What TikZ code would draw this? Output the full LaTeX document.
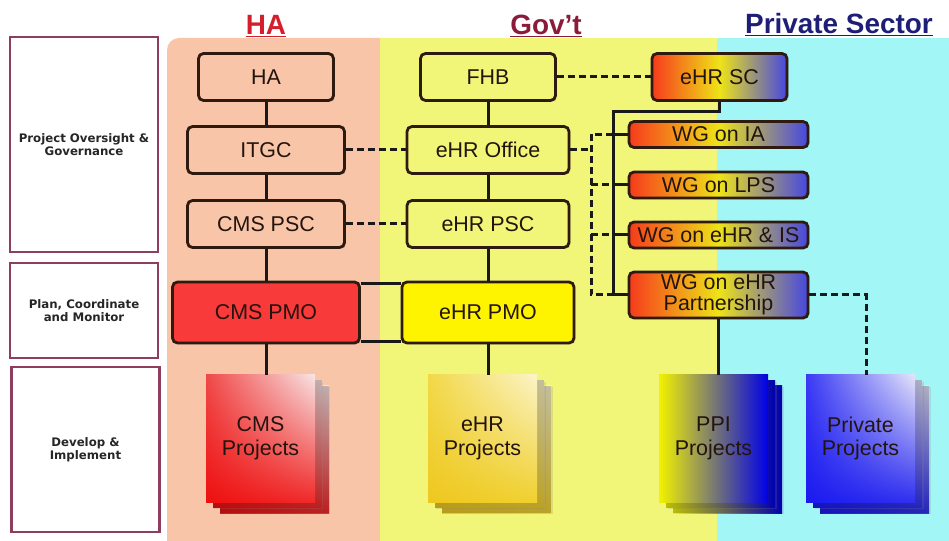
\documentclass[tikz,border=0pt]{standalone}
\usepackage{fontspec}
\setmainfont{Liberation Sans}
\newfontfamily\layerfont{DejaVu Sans}
\usepackage{tikz}
\usetikzlibrary{calc}
\usetikzlibrary{shadows}
\usetikzlibrary{shadings}
\usetikzlibrary{positioning}

\definecolor{haBg}{HTML}{F9C5A8}
\definecolor{govBg}{HTML}{F1F679}
\definecolor{privBg}{HTML}{A2F6F6}
\definecolor{boxLine}{HTML}{2E1A0E}
\definecolor{boxText}{HTML}{24140E}
\definecolor{layerLine}{HTML}{8E3D5E}
\definecolor{haRed}{HTML}{D41E2C}
\definecolor{govRed}{HTML}{8A1C3A}
\definecolor{privBlue}{HTML}{1E1E78}
\definecolor{pmoRed}{HTML}{F83A3A}
\definecolor{pmoYellow}{HTML}{FFF400}
\definecolor{wgRed}{HTML}{F63A1C}
\definecolor{wgMid}{HTML}{EEE418}
\definecolor{wgBlue}{HTML}{4646E2}
\definecolor{cmsTL}{HTML}{F04848}
\definecolor{cmsTR}{HTML}{F8E4E4}
\definecolor{cmsBL}{HTML}{EE1010}
\definecolor{cmsBR}{HTML}{F02A2A}
\definecolor{ehrTL}{HTML}{F2D848}
\definecolor{ehrTR}{HTML}{FBF4C8}
\definecolor{ehrBL}{HTML}{EEC820}
\definecolor{ehrBR}{HTML}{F0D030}
\definecolor{prvTL}{HTML}{3A3AF4}
\definecolor{prvTR}{HTML}{E4E4FA}
\definecolor{prvBL}{HTML}{1A1AF0}
\definecolor{prvBR}{HTML}{3030F0}

\newcommand{\orgfont}{\fontsize{21.5}{22}\selectfont}

\tikzset{
  orgbox/.style = {rectangle, rounded corners=5bp, draw=boxLine, line width=2.8bp,
    text=boxText, font=\orgfont, inner sep=0pt, align=center,
    drop shadow={opacity=0.25, shadow xshift=1.5pt, shadow yshift=-1.5pt}},
  habox/.style = {orgbox, fill=haBg, minimum width=157bp, minimum height=47bp},
  govbox/.style = {orgbox, fill=govBg, minimum width=162bp, minimum height=47bp},
  pmobox/.style = {orgbox, minimum height=61bp},
  wgbox/.style = {orgbox, left color=wgRed, right color=wgBlue, middle color=wgMid,
    minimum width=179bp, minimum height=26bp},
  layerbox/.style = {rectangle, draw=layerLine, line width=2.2bp, fill=white,
    minimum width=148bp, align=center, text=black!85,
    font=\layerfont\bfseries\fontsize{11.8}{13.5}\selectfont,
    drop shadow={opacity=0.2, shadow xshift=1.5pt, shadow yshift=-1.5pt}},
  colhead/.style = {font=\bfseries\fontsize{28}{30}\selectfont, anchor=base, inner sep=0pt},
  pagesheet/.style = {rectangle, minimum width=109bp, minimum height=127bp, inner sep=0pt,
    align=center, text=boxText, font=\fontsize{21.5}{24}\selectfont},
  backsheet/.style = {pagesheet,
    path picture={\fill[black, opacity=0.22] (path picture bounding box.south west)
      rectangle (path picture bounding box.north east);},
    drop shadow={opacity=0.2, shadow xshift=1.5pt, shadow yshift=-1.5pt}},
  cmsshade/.style = {upper left=cmsTL, upper right=cmsTR, lower left=cmsBL, lower right=cmsBR},
  ehrshade/.style = {upper left=ehrTL, upper right=ehrTR, lower left=ehrBL, lower right=ehrBR},
  ppishade/.style = {left color=yellow!95!black, right color=blue!90!black},
  prvshade/.style = {upper left=prvTL, upper right=prvTR, lower left=prvBL, lower right=prvBR},
  solidlink/.style = {-, draw=black!90, line width=3bp},
  dashlink/.style = {-, draw=black!90, line width=3bp, dash pattern=on 7bp off 4bp}
}

% a pile of three project sheets, the front one named
\newcommand{\projstack}[5]{%
  \node[backsheet, #4] at (#2+14, #3+11) {};
  \node[backsheet, #4] at (#2+7, #3+5.5) {};
  \node[pagesheet, #4] (#1) at (#2, #3) {#5};
}

\begin{document}
\begin{tikzpicture}[x=1bp, y=-1bp]
\useasboundingbox (0,0) rectangle (949,541);

% column backgrounds
\fill[haBg, rounded corners=12bp] (167,38) rectangle (395,600);
\fill[govBg] (380,38) rectangle (717,600);
\fill[privBg] (717,38) rectangle (960,600);

% column headers
\node[colhead, text=haRed] (hdha) at (266,35) {\underline{HA}};
\node[colhead, text=govRed] (hdgov) at (546,35) {\underline{Gov't}};
\node[colhead, text=privBlue] (hdpriv) at (839,34) {\underline{Private Sector}};

% layers
\node[layerbox, minimum height=215bp] (lyover) at (84,144.5) {Project Oversight \&\\Governance};
\node[layerbox, minimum height=95bp] (lyplan) at (84,310.5) {Plan, Coordinate\\and Monitor};
\node[layerbox, minimum height=165bp] (lydev) at (85.5,449.5) {Develop \&\\Implement};

% HA
\node[habox, minimum width=135bp] (ha) at (266,77) {HA};
\node[habox] (itgc) at (266,150) {ITGC};
\node[habox] (cmspsc) at (266,224) {CMS PSC};
\node[pmobox, fill=pmoRed, minimum width=187bp] (cmspmo) at (266,312.5) {CMS PMO};
\projstack{cmsproj}{260.5}{438.5}{cmsshade}{CMS\\Projects}

% Gov't
\node[govbox, minimum width=135bp] (fhb) at (488,77) {FHB};
\node[govbox] (ehroffice) at (488,150) {eHR Office};
\node[govbox] (ehrpsc) at (488,224) {eHR PSC};
\node[pmobox, fill=pmoYellow, minimum width=172bp] (ehrpmo) at (488,312.5) {eHR PMO};
\projstack{ehrproj}{482.5}{438.5}{ehrshade}{eHR\\Projects}

% steering committee and working groups
\node[wgbox, minimum width=135bp, minimum height=47bp] (ehrsc) at (719.5,77) {eHR SC};
\node[wgbox] (wgia) at (718.5,134.5) {WG on IA};
\node[wgbox] (wglps) at (718.5,185) {WG on LPS};
\node[wgbox] (wgis) at (718.5,235) {WG on eHR \& IS};
\node[wgbox, minimum height=46bp, font=\fontsize{21.5}{21}\selectfont] (wgpart) at (718.5,295) {WG on eHR\\Partnership};
\projstack{ppiproj}{713.5}{438.5}{ppishade}{PPI\\Projects}
\projstack{prvproj}{860.5}{438.5}{prvshade}{Private\\Projects}

% reporting lines
\draw[solidlink] (ha) -- (itgc);
\draw[solidlink] (itgc) -- (cmspsc);
\draw[solidlink] (cmspsc) -- (cmspmo);
\draw[solidlink] (cmspmo.south) -- (cmspmo.south |- cmsproj.north);
\draw[solidlink] (fhb) -- (ehroffice);
\draw[solidlink] (ehroffice) -- (ehrpsc);
\draw[solidlink] (ehrpsc) -- (ehrpmo);
\draw[solidlink] (ehrpmo.south) -- (ehrpmo.south |- ehrproj.north);
\draw[solidlink] ([yshift=-3bp]cmspmo.north east) -- ([yshift=-3bp]ehrpmo.north west);
\draw[solidlink] ([yshift=3bp]cmspmo.south east) -- ([yshift=3bp]ehrpmo.south west);

% liaison
\draw[dashlink] (itgc) -- (ehroffice);
\draw[dashlink] (cmspsc) -- (ehrpsc);
\draw[dashlink] (fhb) -- (ehrsc);

% buses to the working groups
\coordinate (sbus) at (613,112);
\coordinate (dbus) at (591,134.5);
\draw[solidlink] (ehrsc.south) |- (sbus) -- (sbus |- wgpart.west) -- (wgpart.west);
\foreach \wg in {wgia, wglps, wgis}
  \draw[solidlink] (sbus |- \wg.west) -- (\wg.west);
\draw[dashlink] (ehroffice.east) -- (dbus |- ehroffice.east);
\draw[dashlink] (sbus |- wgia.west) -- (dbus) -- (dbus |- wgpart.west) -- (sbus |- wgpart.west);
\foreach \wg in {wglps, wgis}
  \draw[dashlink] (dbus |- \wg.west) -- (sbus |- \wg.west);

\draw[solidlink] (wgpart.south) -- (wgpart.south |- ppiproj.north);
\draw[dashlink] (wgpart.east) -| ([xshift=5.5bp]prvproj.north);
\end{tikzpicture}
\end{document}
